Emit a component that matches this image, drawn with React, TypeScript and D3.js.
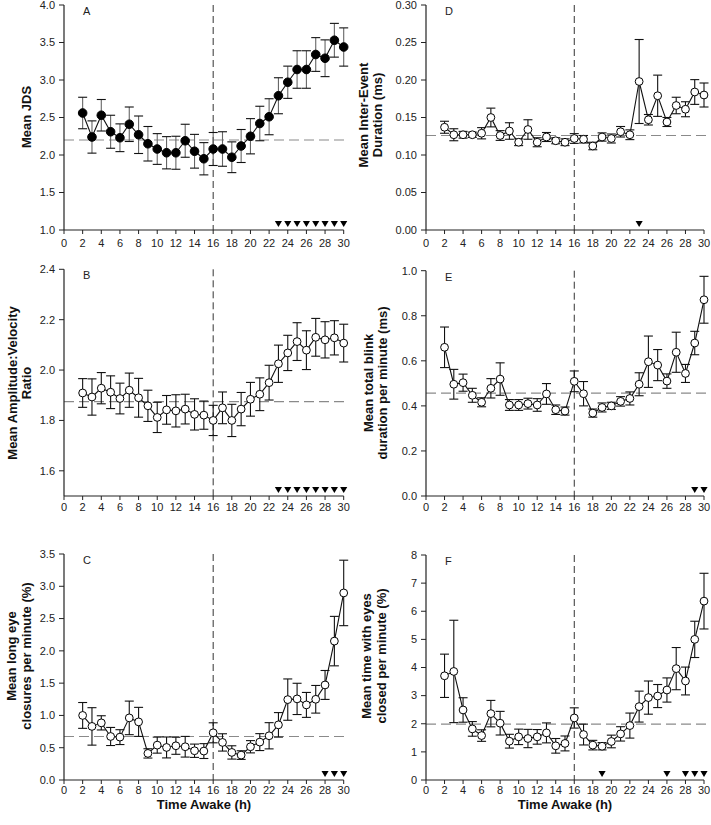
import React from "react";
import * as d3 from "d3";

const hours = [2,3,4,5,6,7,8,9,10,11,12,13,14,15,16,17,18,19,20,21,22,23,24,25,26,27,28,29,30];
const xTicks = [0,2,4,6,8,10,12,14,16,18,20,22,24,26,28,30];

// A: Mean JDS
const jdsMean = [2.56,2.24,2.53,2.31,2.23,2.41,2.27,2.15,2.08,2.03,2.03,2.19,2.05,1.95,2.08,2.08,1.97,2.12,2.25,2.42,2.51,2.79,2.97,3.14,3.14,3.34,3.29,3.53,3.44];
const jdsSem = [0.21,0.215,0.21,0.22,0.185,0.23,0.25,0.23,0.205,0.215,0.22,0.22,0.225,0.215,0.22,0.23,0.205,0.22,0.235,0.23,0.24,0.24,0.215,0.25,0.25,0.225,0.245,0.225,0.255];
const jdsBaseline = 2.2;
const jdsSig = [23,24,25,26,27,28,29,30];

// D: Inter-event duration
const iedMean = [0.137,0.127,0.127,0.127,0.129,0.150,0.126,0.132,0.117,0.134,0.117,0.124,0.119,0.117,0.122,0.121,0.112,0.124,0.122,0.131,0.127,0.198,0.147,0.179,0.144,0.166,0.161,0.184,0.180];
const iedSem = [0.008,0.008,0.0045,0.0035,0.0075,0.0125,0.0065,0.011,0.0045,0.013,0.006,0.006,0.004,0.0045,0.0065,0.005,0.005,0.0055,0.006,0.007,0.0065,0.056,0.007,0.0275,0.006,0.011,0.010,0.0165,0.016];
const iedBaseline = 0.126;
const iedSig = [23];

// B: Amplitude:Velocity ratio
const avrMean = [1.909,1.893,1.928,1.912,1.887,1.92,1.89,1.858,1.812,1.842,1.838,1.845,1.824,1.821,1.80,1.85,1.80,1.845,1.884,1.904,1.95,2.025,2.068,2.113,2.079,2.13,2.12,2.128,2.107];
const avrSem = [0.057,0.072,0.062,0.065,0.061,0.068,0.077,0.062,0.06,0.057,0.064,0.059,0.062,0.056,0.06,0.063,0.064,0.066,0.067,0.065,0.069,0.074,0.07,0.075,0.077,0.075,0.072,0.068,0.075];
const avrBaseline = 1.875;
const avrSig = [23,24,25,26,27,28,29,30];

// E: Total blink duration per minute
const tbdMean = [0.66,0.496,0.503,0.447,0.416,0.478,0.519,0.404,0.404,0.41,0.404,0.453,0.383,0.377,0.509,0.454,0.368,0.393,0.40,0.42,0.433,0.496,0.596,0.581,0.51,0.638,0.544,0.679,0.871];
const tbdSem = [0.09,0.066,0.038,0.031,0.02,0.043,0.072,0.024,0.024,0.024,0.028,0.046,0.021,0.018,0.046,0.054,0.018,0.02,0.016,0.021,0.029,0.051,0.114,0.069,0.032,0.089,0.04,0.052,0.104];
const tbdBaseline = 0.457;
const tbdSig = [29,30];

// C: Long eye closures per minute
const lecMean = [1.00,0.83,0.885,0.674,0.664,0.962,0.90,0.412,0.54,0.504,0.53,0.515,0.453,0.448,0.731,0.582,0.427,0.386,0.515,0.587,0.685,0.854,1.245,1.256,1.163,1.25,1.472,2.151,2.897];
const lecSem = [0.2,0.29,0.11,0.14,0.115,0.26,0.225,0.072,0.124,0.162,0.132,0.16,0.103,0.115,0.155,0.134,0.103,0.067,0.095,0.131,0.203,0.19,0.32,0.242,0.193,0.214,0.224,0.383,0.507];
const lecBaseline = 0.674;
const lecSig = [28,29,30];

// F: Time with eyes closed per minute
const tecMean = [3.705,3.86,2.49,1.817,1.58,2.36,2.02,1.38,1.534,1.475,1.534,1.675,1.215,1.30,2.206,1.616,1.24,1.20,1.37,1.64,1.935,2.61,2.93,2.985,3.20,3.96,3.52,5.00,6.36];
const tecSem = [0.77,1.82,0.435,0.26,0.205,0.47,0.42,0.245,0.275,0.325,0.26,0.355,0.26,0.265,0.36,0.37,0.17,0.13,0.225,0.255,0.445,0.55,0.59,0.41,0.43,0.75,0.495,0.645,0.99];
const tecBaseline = 1.99;
const tecSig = [19,26,28,29,30];

const FONT = "Arial, 'Liberation Sans', Helvetica, sans-serif";

type Panel = {
  letter: string;
  mean: number[];
  sem: number[];
  baseline: number;
  sig: number[];
  domain: [number, number];
  yTicks: number[];
  fmt: string;
  filled: boolean;
  x0: number; x1: number; yb: number; yt: number;
  labelOffset: number;
  title: string[];
  titleX: number[];
  titleY: number;
  stemColor: string;
};

const LEFT: [number, number] = [64, 343.7];
const RIGHT: [number, number] = [426, 704];

const panels: Panel[] = [
  { letter: "A", mean: jdsMean, sem: jdsSem, baseline: jdsBaseline, sig: jdsSig, domain: [1, 4], yTicks: d3.range(1, 4.01, 0.5), fmt: ".1f", filled: true,
    x0: LEFT[0], x1: LEFT[1], yb: 230, yt: 5, labelOffset: 17, title: ["Mean JDS"], titleX: [31], titleY: 117, stemColor: "#666" },
  { letter: "D", mean: iedMean, sem: iedSem, baseline: iedBaseline, sig: iedSig, domain: [0, 0.3], yTicks: d3.range(0, 0.301, 0.05), fmt: ".2f", filled: false,
    x0: RIGHT[0], x1: RIGHT[1], yb: 230, yt: 5, labelOffset: 17, title: ["Mean Inter-Event", "Duration (ms)"], titleX: [368, 382], titleY: 115, stemColor: "#111" },
  { letter: "B", mean: avrMean, sem: avrSem, baseline: avrBaseline, sig: avrSig, domain: [1.5, 2.4], yTicks: [1.6, 1.8, 2.0, 2.2, 2.4], fmt: ".1f", filled: false,
    x0: LEFT[0], x1: LEFT[1], yb: 496, yt: 269.3, labelOffset: 15, title: ["Mean Amplitude:Velocity", "Ratio"], titleX: [17, 31], titleY: 383, stemColor: "#111" },
  { letter: "E", mean: tbdMean, sem: tbdSem, baseline: tbdBaseline, sig: tbdSig, domain: [0, 1], yTicks: d3.range(0, 1.01, 0.2), fmt: ".1f", filled: false,
    x0: RIGHT[0], x1: RIGHT[1], yb: 496, yt: 270.7, labelOffset: 15, title: ["Mean total blink", "duration per minute (ms)"], titleX: [373, 387], titleY: 383, stemColor: "#111" },
  { letter: "C", mean: lecMean, sem: lecSem, baseline: lecBaseline, sig: lecSig, domain: [0, 3.5], yTicks: d3.range(0, 3.51, 0.5), fmt: ".1f", filled: false,
    x0: LEFT[0], x1: LEFT[1], yb: 780, yt: 554, labelOffset: 14, title: ["Mean long eye", "closures per minute (%)"], titleX: [16, 31], titleY: 656, stemColor: "#111" },
  { letter: "F", mean: tecMean, sem: tecSem, baseline: tecBaseline, sig: tecSig, domain: [0, 8], yTicks: d3.range(0, 8.01, 1), fmt: "d", filled: false,
    x0: RIGHT[0], x1: RIGHT[1], yb: 780, yt: 555, labelOffset: 14, title: ["Mean time with eyes", "closed per minute (%)"], titleX: [371, 386], titleY: 656, stemColor: "#111" },
];

const triPath = d3.symbol().type(d3.symbolTriangle).size(22)() as string;

function PanelView({ p }: { p: Panel }) {
  const x = d3.scaleLinear().domain([0, 30]).range([p.x0, p.x1]);
  const y = d3.scaleLinear().domain(p.domain).range([p.yb, p.yt]);
  const f = d3.format(p.fmt);
  const pts = hours.map((h, i) => ({ h, m: p.mean[i], s: p.sem[i] }));
  const line = d3.line<{ h: number; m: number }>().x(d => x(d.h)).y(d => y(d.m));
  const cap = 4.5;
  return (
    <g>
      <line x1={x(0)} x2={x(30) + 4} y1={y(p.baseline)} y2={y(p.baseline)} stroke="#8a8a8a" strokeWidth={1.2} strokeDasharray="10,5" />
      <line x1={x(16)} x2={x(16)} y1={p.yt} y2={p.yb} stroke="#333" strokeWidth={1} strokeDasharray="7,4" />
      <line x1={p.x0} x2={p.x0} y1={p.yt} y2={p.yb} stroke="#222" strokeWidth={1.2} />
      <line x1={p.x0} x2={p.x1} y1={p.yb} y2={p.yb} stroke="#222" strokeWidth={1.2} />
      {p.yTicks.map(t => (
        <g key={"y" + t}>
          <line x1={p.x0 - 5} x2={p.x0} y1={y(t)} y2={y(t)} stroke="#222" />
          <text x={p.x0 - 9} y={y(t)} dy="0.35em" textAnchor="end" fontSize={11} fill="#222" fontFamily={FONT}>{f(t)}</text>
        </g>
      ))}
      {xTicks.map(t => (
        <g key={"x" + t}>
          <line x1={x(t)} x2={x(t)} y1={p.yb} y2={p.yb + 4} stroke="#222" />
          <text x={x(t)} y={p.yb + p.labelOffset} textAnchor="middle" fontSize={11} fill="#222" fontFamily={FONT}>{t}</text>
        </g>
      ))}
      {pts.map(d => (
        <g key={"e" + d.h}>
          <line x1={x(d.h)} x2={x(d.h)} y1={y(d.m + d.s)} y2={y(d.m - d.s)} stroke={p.stemColor} strokeWidth={1.1} />
          <line x1={x(d.h) - cap} x2={x(d.h) + cap} y1={y(d.m + d.s)} y2={y(d.m + d.s)} stroke="#111" strokeWidth={1.1} />
          <line x1={x(d.h) - cap} x2={x(d.h) + cap} y1={y(d.m - d.s)} y2={y(d.m - d.s)} stroke="#111" strokeWidth={1.1} />
        </g>
      ))}
      <path d={line(pts) as string} fill="none" stroke="#111" strokeWidth={1.1} />
      {pts.map(d => (
        <circle key={"c" + d.h} cx={x(d.h)} cy={y(d.m)} r={p.filled ? 4.3 : 3.9} fill={p.filled ? "#000" : "#fff"} stroke="#000" strokeWidth={1} />
      ))}
      {p.sig.map(h => (
        <path key={"s" + h} d={triPath} transform={`translate(${x(h)},${p.yb - 7}) rotate(180)`} fill="#000" />
      ))}
      <text x={p.x0 + 19} y={p.yt + 10} fontSize={11} fill="#222" fontFamily={FONT}>{p.letter}</text>
      {p.title.map((t, i) => (
        <text key={"t" + i} transform={`translate(${p.titleX[i]},${p.titleY}) rotate(-90)`} textAnchor="middle" fontSize={13} fontWeight="bold" fill="#111" fontFamily={FONT}>{t}</text>
      ))}
    </g>
  );
}

export default function App() {
  return (
    <svg width={711} height={825} style={{ position: "absolute", left: 0, top: 0, background: "#fff" }}>
      <rect width={711} height={825} fill="#fff" />
      {panels.map(p => <PanelView key={p.letter} p={p} />)}
      <text x={204} y={809} textAnchor="middle" fontSize={13} fontWeight="bold" fill="#111" fontFamily={FONT}>Time Awake (h)</text>
      <text x={565} y={809} textAnchor="middle" fontSize={13} fontWeight="bold" fill="#111" fontFamily={FONT}>Time Awake (h)</text>
    </svg>
  );
}
